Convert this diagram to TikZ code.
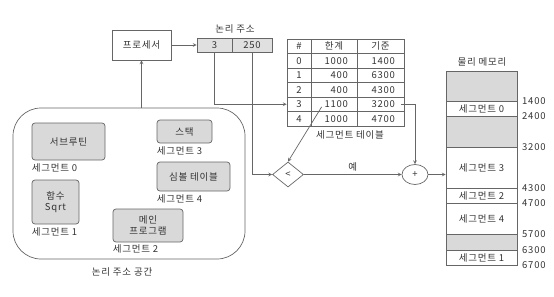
\documentclass[tikz,border=0pt]{standalone}
\usepackage{fontspec}
\setmainfont[LetterSpace=8]{Noto Sans CJK KR}
\usetikzlibrary{shapes.geometric,calc,positioning}

\begin{document}
\begin{tikzpicture}[>=stealth, x=1pt, y=-1pt, font=\fontsize{9.5}{10.5}\selectfont, text=black!80]
	\tikzstyle{box} = [draw=black!60, line width=0.7pt, inner sep=0pt]
	\tikzstyle{seg} = [box, rounded corners=3pt, fill=black!15, align=center]
	\tikzstyle{cell} = [box, minimum height=14.5pt, fill=white]
	\tikzstyle{mem} = [box, minimum width=71pt]
	\tikzstyle{wire} = [draw=black!60, line width=0.7pt]
	\tikzstyle{lbl} = [inner sep=0pt]

	\useasboundingbox (0,0) rectangle (554,297);

	% logical address space
	\node[box, rounded corners=28pt, minimum width=232pt, minimum height=151pt] (space) at (129,183.5) {};
	\node[lbl] (spacelbl) at (122,272) {논리 주소 공간};

	\node[seg, minimum width=73pt, minimum height=37pt] (sub) at (68.5,141.5) {서브루틴};
	\node[seg, minimum width=47pt, minimum height=44pt] (sqrt) at (55.5,202) {함수\\Sqrt};
	\node[seg, minimum width=70pt, minimum height=33pt] (main) at (148,225.5) {메인\\프로그램};
	\node[seg, minimum width=55pt, minimum height=23pt] (stack) at (184.5,131.5) {스택};
	\node[seg, minimum width=73pt, minimum height=29pt] (sym) at (193.5,176.5) {심볼 테이블};

	\node[lbl, below right=3pt and 0pt of sub.south west] (s0) {세그먼트 0};
	\node[lbl, below right=3pt and 0pt of sqrt.south west] (s1) {세그먼트 1};
	\node[lbl, below right=2.5pt and 0pt of main.south west] (s2) {세그먼트 2};
	\node[lbl, below right=3.5pt and 0pt of stack.south west] (s3) {세그먼트 3};
	\node[lbl, below right=3.5pt and 0pt of sym.south west] (s4) {세그먼트 4};

	% processor and logical address
	\node[box, minimum width=59pt, minimum height=30pt, fill=white] (proc) at (141.5,45) {프로세서};
	\node[box, minimum width=35pt, minimum height=14pt, fill=black!12] (segno) at (214.5,45) {3};
	\node[box, minimum width=40pt, minimum height=14pt, fill=black!12] (offs) at (252,45) {250};
	\node[lbl] (addrlbl) at (235,29) {논리 주소};

	% segment table
	\node[cell, minimum width=24pt] (h0) at (299,46.25) {\#};
	\node[cell, minimum width=46pt] (h1) at (334,46.25) {한계};
	\node[cell, minimum width=47pt] (h2) at (380.5,46.25) {기준};
	\foreach \i/\lim/\base in {0/1000/1400, 1/400/6300, 2/400/4300, 3/1100/3200, 4/1000/4700}
	{
		\node[cell, minimum width=24pt] (n\i) at (299,{60.75+14.5*\i}) {\i};
		\node[cell, inner xsep=9pt, text width=28pt, align=right] (l\i) at (334,{60.75+14.5*\i}) {\lim};
		\node[cell, inner xsep=9pt, text width=29pt, align=right] (b\i) at (380.5,{60.75+14.5*\i}) {\base};
	}
	\node[lbl] (tbllbl) at (350,135) {세그먼트 테이블};

	% compare and add
	\node[box, diamond, minimum width=31pt, minimum height=25pt, fill=white] (cmp) at (288,174.5) {<};
	\node[box, ellipse, minimum width=26pt, minimum height=20pt, fill=white] (add) at (415,174.5) {+};

	% physical memory
	\node[lbl] (memlbl) at (482,62) {물리 메모리};
	\foreach \ya/\yb/\col/\nm/\txt in {71/101/black!15/g0/{}, 101/116/white/p0/세그먼트 0,
		116/147/black!15/g1/{}, 147/188/white/p3/세그먼트 3, 188/203/white/p2/세그먼트 2,
		203/234/white/p4/세그먼트 4, 234/250/black!15/g2/{}, 250/265/white/p1/세그먼트 1}
		\node[mem, fill=\col, minimum height={\yb-\ya}] (\nm) at (481.5,{(\ya+\yb)/2}) {\txt};
	\foreach \v/\y in {1400/101, 2400/116, 3200/147, 4300/188, 4700/203, 5700/234, 6300/250, 6700/265}
		\node[lbl, anchor=west] (a\v) at (522,\y) {\v};

	% connectors
	\draw[wire, ->] (space.north -| proc.south) -- (proc.south);
	\draw[wire, ->] (proc) -- (segno);
	\draw[wire, ->] (segno.south) |- (n3.west);
	\draw[wire, ->] (offs.south) |- (cmp.west);
	\draw[wire, ->] ($(l3.south west)+(11,-5)$) -- (cmp.north);
	\draw[wire, ->] ([xshift=-3pt]b3.east) -| (add.north);
	\draw[wire, ->] (cmp.east) -- node[lbl, above=3pt] (yes) {예} (add.west);
	\draw[wire, ->] (add.east) -- (add.east -| p3.west);
\end{tikzpicture}
\end{document}
